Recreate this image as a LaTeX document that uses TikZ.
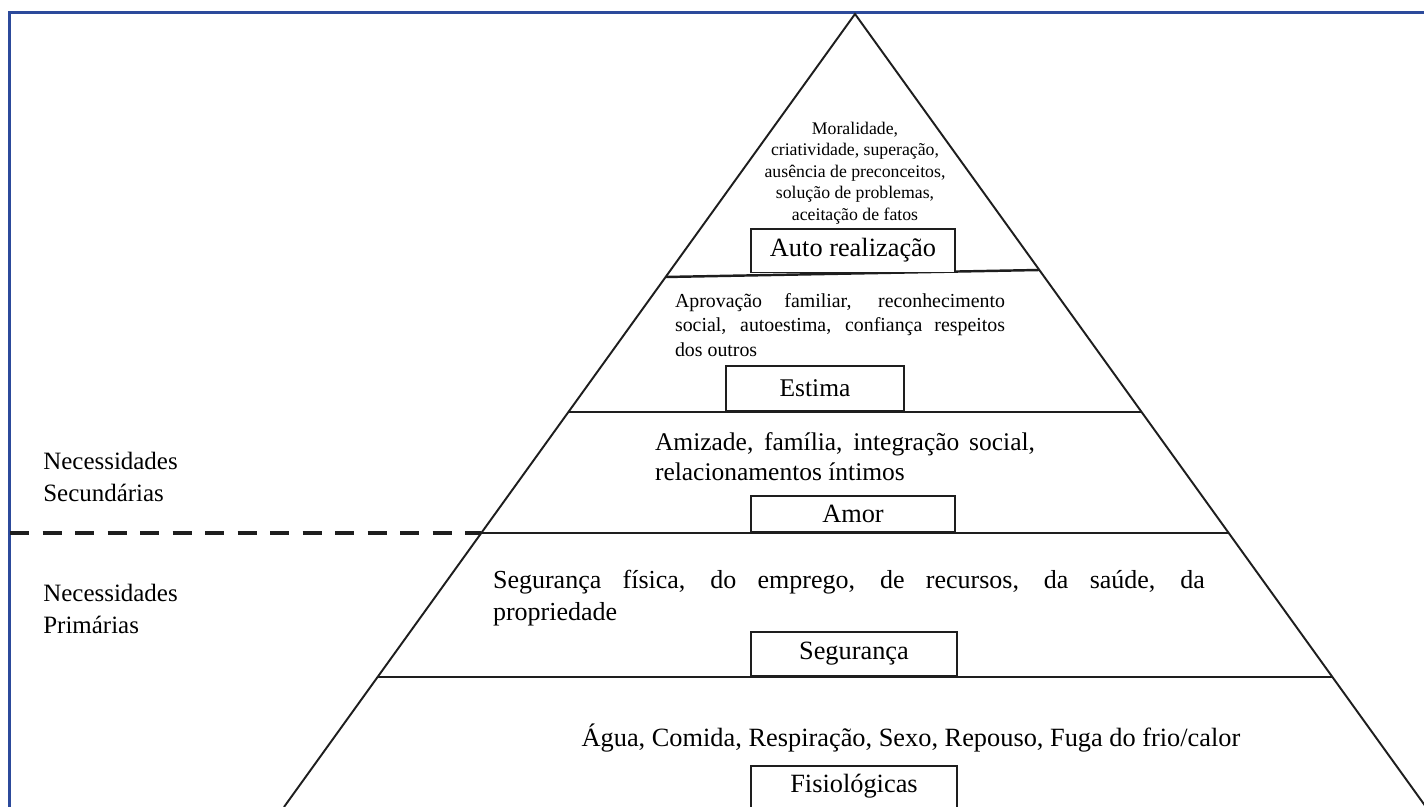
\documentclass[tikz,border=0pt]{standalone}
\usepackage{fontspec}
\setmainfont{Liberation Serif}
\definecolor{borde}{RGB}{44,74,155}
\definecolor{traco}{RGB}{30,30,30}

\tikzset{
  caixa/.style={draw=traco, line width=1.1pt, fill=white, inner sep=0pt,
    minimum height=0.88cm, anchor=south, font=\fontsize{15}{18}\selectfont},
  nivel/.style={draw=traco, line width=1.4pt},
  lado/.style={draw=traco, line width=1.1pt}
}

\begin{document}
\begin{tikzpicture}[x=0.02cm, y=-0.02cm]
    \clip (0,0) rectangle (1424,807);
    \fill[white] (0,0) rectangle (1424,807);

    % Borde
    \draw[borde, line width=2.2pt] (9.5,820) -- (9.5,12.5) -- (1430,12.5);

    % Pirámide
    \coordinate (topo) at (855,14);
    \coordinate (baseE) at (284,807);
    \coordinate (baseD) at (1426,807);
    \draw[lado] (baseE) -- (topo) -- (baseD);

    % Niveles
    \coordinate (n1e) at (665.6,277);  \coordinate (n1d) at (1039,270);
    \coordinate (n2e) at (568.4,412);  \coordinate (n2d) at (1141.6,412);
    \coordinate (n3e) at (481.3,533);  \coordinate (n3d) at (1228.7,533);
    \coordinate (n4e) at (377.6,677);  \coordinate (n4d) at (1332.4,677);
    \draw[nivel] (n1e) -- (n1d);
    \draw[nivel] (n2e) -- (n2d);
    \draw[nivel] (n3e) -- (n3d);
    \draw[nivel] (n4e) -- (n4d);

    % Linea discontinua
    \coordinate (corte) at (10,533);
    \draw[traco, line width=2.3pt, dash pattern=on 11pt off 7.5pt] (corte) -- (n3e);

    % Cajas
    \node[caixa, minimum width=4.08cm] (auto) at (853,273.5) {Auto realização};
    \node[caixa, minimum width=3.56cm, minimum height=0.9cm,
          font=\fontsize{14.5}{17}\selectfont] (estima) at (815,412) {Estima};
    \node[caixa, minimum width=4.08cm, minimum height=0.72cm] (amor) at (853,533) {Amor};
    \node[caixa, minimum width=4.12cm] (seguranca) at (854,677) {Segurança};
    \node[caixa, minimum width=4.12cm, minimum height=1.0cm, anchor=north] (fisio) at (854,765) {};
    \node[font=\fontsize{15}{18}\selectfont] at (854,786) {Fisiológicas};

    % Textos
    \node[align=center, inner sep=0pt, font=\fontsize{10.1}{12.2}\selectfont] (t1) at (855,173)
      {Moralidade,\\ criatividade, superação,\\ ausência de preconceitos,\\ solução de problemas,\\ aceitação de fatos};
    \node[align=justify, text width=6.6cm, inner sep=0pt, font=\fontsize{11.3}{14}\selectfont] (t2) at (840,325)
      {Aprovação familiar, reconhecimento\linebreak social, autoestima, confiança respeitos\linebreak dos outros};
    \node[align=justify, text width=7.6cm, inner sep=0pt, font=\fontsize{14.5}{17.2}\selectfont] (t3) at (845,457)
      {Amizade, família, integração social,\linebreak relacionamentos íntimos};
    \node[align=justify, text width=14.24cm, inner sep=0pt, font=\fontsize{14.8}{18.2}\selectfont] (t4) at (849,598)
      {Segurança física, do emprego, de recursos, da saúde, da\linebreak propriedade};
    \node[font=\fontsize{15}{18}\selectfont] (t5) at (911,738)
      {Água, Comida, Respiração, Sexo, Repouso, Fuga do frio/calor};

    % Etiquetas
    \node[align=left, anchor=west, inner sep=0pt, font=\fontsize{14.2}{18.2}\selectfont] (sec) at (43,477)
      {Necessidades\\ Secundárias};
    \node[align=left, anchor=west, inner sep=0pt, font=\fontsize{14.2}{18.2}\selectfont] (pri) at (43,609)
      {Necessidades\\ Primárias};
\end{tikzpicture}
\end{document}
